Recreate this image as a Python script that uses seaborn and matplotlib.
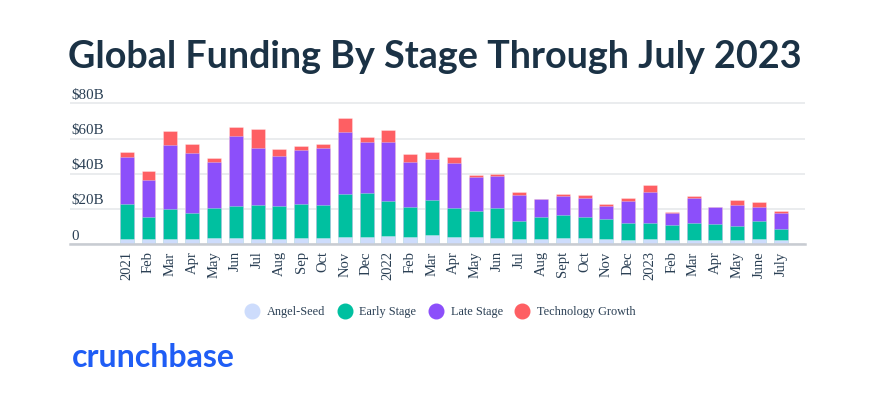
import matplotlib
matplotlib.use("Agg")
import matplotlib.pyplot as plt
import seaborn as sns
import pandas as pd
import numpy as np
from matplotlib.lines import Line2D
import matplotlib.transforms as mtransforms

# ---- data ($B) ----
months = ["2021", "Feb", "Mar", "Apr", "May", "Jun", "Jul", "Aug", "Sep", "Oct", "Nov", "Dec",
          "2022", "Feb", "Mar", "Apr", "May", "Jun", "Jul", "Aug", "Sept", "Oct", "Nov", "Dec",
          "2023", "Feb", "Mar", "Apr", "May", "June", "July"]
angel_seed = [2.8, 2.8, 2.8, 2.8, 3.4, 3.4, 2.8, 2.8, 3.4, 3.4, 4.0, 4.0,
              4.5, 4.0, 5.1, 4.0, 4.0, 3.4, 2.8, 2.8, 3.4, 3.4, 2.8, 2.3,
              2.8, 2.3, 2.3, 2.3, 2.3, 2.8, 2.3]
early_stage = [20.3, 12.5, 17.3, 15.2, 17.4, 18.6, 19.5, 19.2, 19.7, 18.9, 24.6, 25.0,
               20.1, 17.4, 20.3, 16.8, 15.1, 17.4, 10.6, 12.9, 13.5, 12.3, 11.8, 9.6,
               9.1, 8.5, 9.6, 9.1, 7.9, 10.6, 6.6]
late_stage = [26.7, 21.3, 36.0, 33.7, 25.8, 39.2, 32.6, 28.4, 30.7, 32.1, 35.4, 28.8,
              33.2, 25.2, 23.3, 25.2, 19.0, 17.8, 14.6, 10.2, 10.8, 10.8, 7.4, 12.9,
              18.0, 7.2, 14.6, 9.6, 12.3, 8.0, 9.1]
tech_growth = [2.7, 5.1, 8.1, 5.1, 2.3, 5.3, 10.4, 3.6, 1.9, 2.4, 7.4, 3.0,
               6.8, 4.7, 3.8, 3.4, 1.3, 1.4, 1.7, 0.0, 1.1, 1.5, 1.1, 1.7,
               4.0, 0.6, 1.2, 0.4, 2.9, 2.8, 0.8]
y_ticks = [0, 20, 40, 60, 80]
y_tick_labels = ["0", "$20B", "$40B", "$60B", "$80B"]
series_names = ["Angel-Seed", "Early Stage", "Late Stage", "Technology Growth"]
colors = ["#cddcfc", "#00c0a0", "#8c4ffa", "#fe5f63"]

# ---- figure ----
sns.set_theme(style="white")
plt.rcParams["font.family"] = ["Liberation Serif", "DejaVu Serif"]
fig = plt.figure(figsize=(8.7, 4.18), dpi=100)
ax = fig.add_axes([0.0805, 0.4155, 0.925 - 0.0805, 0.3457])

x_idx = list(range(len(months)))
layers = [angel_seed, early_stage, late_stage, tech_growth]
cum = np.cumsum(np.array(layers), axis=0)
df = pd.DataFrame({"idx": x_idx})
for i in range(3, -1, -1):
    df["val"] = cum[i]
    sns.barplot(data=df, x="idx", y="val", color=colors[i], saturation=1,
                width=0.64, ax=ax, edgecolor=(1, 1, 1, 0.35), linewidth=0.6,
                order=x_idx)

ax.set_xlim(-2.6, 31.1)
ax.set_ylim(0, 82)
ax.set_xlabel("")
ax.set_ylabel("")
ax.set_yticks(y_ticks)
ax.set_yticklabels([])
ax.tick_params(axis="y", length=0)
ax.yaxis.grid(True, color="#e8eaed", linewidth=1.3)
ax.set_axisbelow(True)
for s in ["top", "right", "left"]:
    ax.spines[s].set_visible(False)
ax.spines["bottom"].set_color("#c8ccd2")
ax.spines["bottom"].set_linewidth(1.8)
ax.spines["bottom"].set_zorder(5)

ax.set_xticks(x_idx)
ax.set_xticklabels(months, rotation=90, fontsize=10.5, color="#2a3f54", va="top")
ax.tick_params(axis="x", length=0, pad=5)

trans = mtransforms.blended_transform_factory(ax.transAxes, ax.transData)
for v, lab in zip(y_ticks, y_tick_labels):
    ax.text(0.002, v + 0.9, lab, transform=trans, ha="left", va="bottom",
            fontsize=10.8, color="#2a3f54")

# title
fig.text(0.5, 1 - 67.5 / 418, "Global Funding By Stage Through July 2023",
         ha="center", va="baseline", fontsize=27.2, fontweight="bold",
         color="#1b3245", family=["Lato", "DejaVu Sans"])

# legend
handles = [Line2D([0], [0], marker="o", linestyle="", markersize=10.5,
                  markerfacecolor=c, markeredgecolor=c) for c in colors]
fig.legend(handles, series_names, loc="center", bbox_to_anchor=(0.506, 1 - 312 / 418),
           ncol=4, frameon=False, fontsize=8.8, labelcolor="#2a3f54",
           handletextpad=0.6, columnspacing=1.0, handlelength=1.2)

# logo
fig.text(72 / 870, 1 - 367 / 418, "crunchbase", ha="left", va="baseline",
         fontsize=23, fontweight="bold", color="#1f5df5",
         family=["Lato", "DejaVu Sans"])

fig.savefig("out.png", dpi=100, facecolor="white")
